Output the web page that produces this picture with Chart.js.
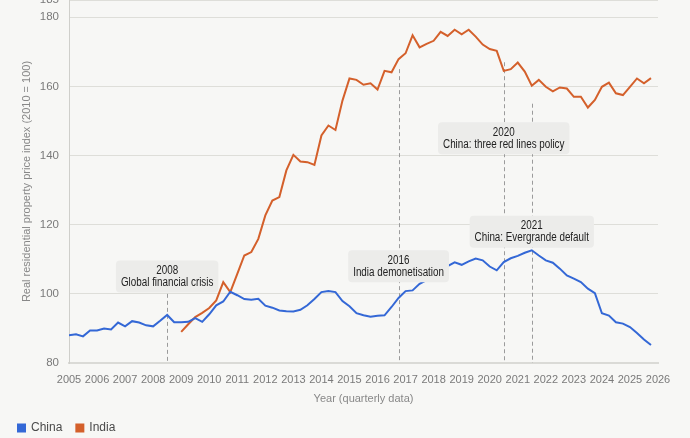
<!DOCTYPE html>
<html>
<head>
<meta charset="utf-8">
<script src="https://cdn.jsdelivr.net/npm/chart.js@4"></script>
<style>
  html, body { margin: 0; padding: 0; background: #f7f7f5; overflow: hidden; }
  #wrap { width: 690px; height: 444px; position: relative; }
</style>
</head>
<body>
<div id="wrap"><canvas id="chart"></canvas></div>
<script>
// Quarterly real residential property price index (2010 = 100)
const chinaStart = 2005;
const chinaValues = [
  88.0, 88.3, 87.7, 89.4, 89.4, 90.0, 89.7, 91.7, 90.6, 92.1,
  91.7, 90.9, 90.6, 92.2, 93.9, 91.8, 91.8, 91.9, 93.0, 91.9,
  94.1, 96.7, 97.8, 100.6, 99.6, 98.5, 98.3, 98.6, 96.6, 96.0,
  95.2, 95.0, 94.9, 95.4, 96.7, 98.5, 100.5, 100.8, 100.5, 97.9,
  96.4, 94.4, 93.8, 93.4, 93.7, 93.8, 96.2, 98.8, 100.8, 101.0,
  102.9, 104.0, 105.0, 106.5, 108.0, 109.1, 108.4, 109.4, 110.2, 109.7,
  107.9, 106.8, 109.2, 110.3, 111.0, 111.9, 112.6, 111.1, 109.7, 109.0,
  107.3, 105.3, 104.4, 103.4, 101.5, 100.2, 94.4, 93.7, 91.8, 91.4,
  90.4, 88.7, 86.8, 85.2
];
const indiaStart = 2009;
const indiaValues = [
  89.0, 91.2, 93.3, 94.5, 95.9, 98.1, 103.4, 100.5, 105.8, 111.1,
  112.1, 115.9, 122.7, 127.0, 128.0, 135.7, 140.2, 138.3, 138.1, 137.3,
  145.8, 148.7, 147.4, 155.9, 162.3, 161.9, 160.5, 160.9, 159.1, 164.5,
  164.1, 167.9, 169.6, 174.8, 171.3, 172.3, 173.2, 175.8, 174.6, 176.4,
  175.1, 176.4, 174.4, 172.1, 170.8, 170.3, 164.5, 165.0, 166.9, 164.3,
  160.2, 161.9, 159.9, 158.6, 159.7, 159.4, 157.0, 157.0, 153.9, 156.1,
  159.9, 161.1, 158.0, 157.5, 159.9, 162.3, 160.9, 162.4
];

// axis ticks
const yearTicks = [2005, 2006, 2007, 2008, 2009, 2010, 2011, 2012, 2013, 2014, 2015,
  2016, 2017, 2018, 2019, 2020, 2021, 2022, 2023, 2024, 2025, 2026];
const valueTicks = [80, 100, 120, 140, 160, 180, 185];

// events marked on the chart
const eventYears = [2008.5, 2016.75, 2020.5, 2021.5];
const eventTitles = ['2008', '2016', '2020', '2021'];
const eventLabels = ['Global financial crisis', 'India demonetisation', 'China: three red lines policy', 'China: Evergrande default'];
const eventLineTops = [100, 165, 167, 155];
const eventLabelValues = [105, 108, 145, 118];

const FONT = "'Liberation Sans', Arial, sans-serif";
Chart.defaults.font.family = FONT;
Chart.defaults.font.size = 11;

const toPoints = (start, values) => values.map((v, i) => ({ x: start + i / 4, y: v }));

// narrow text, the original uses a condensed face
const SQUEEZE = 0.82;
function narrowText(ctx, text, x, y) {
  ctx.save();
  ctx.translate(x, y);
  ctx.scale(SQUEEZE, 1);
  ctx.fillText(text, 0, 0);
  ctx.restore();
}

// dashed event lines under the data, label boxes on top
const eventPlugin = {
  id: 'events',
  beforeDatasetsDraw(chart) {
    const { ctx, chartArea, scales: { x, y } } = chart;
    ctx.save();
    ctx.strokeStyle = '#9b9b9b';
    ctx.lineWidth = 1;
    ctx.setLineDash([4, 3]);
    eventYears.forEach((yr, i) => {
      const px = Math.round(x.getPixelForValue(yr)) + 0.5;
      ctx.beginPath();
      ctx.moveTo(px, y.getPixelForValue(eventLineTops[i]));
      ctx.lineTo(px, chartArea.bottom);
      ctx.stroke();
    });
    ctx.restore();
  },
  afterDatasetsDraw(chart) {
    const { ctx, scales: { x, y } } = chart;
    ctx.save();
    ctx.font = '12px ' + FONT;
    ctx.textAlign = 'center';
    ctx.textBaseline = 'middle';
    eventYears.forEach((yr, i) => {
      const cx = x.getPixelForValue(yr);
      const cy = y.getPixelForValue(eventLabelValues[i]);
      const tw = Math.max(ctx.measureText(eventTitles[i]).width, ctx.measureText(eventLabels[i]).width) * SQUEEZE;
      const w = tw + 10;
      const h = 32;
      ctx.fillStyle = '#ececea';
      ctx.beginPath();
      ctx.roundRect(cx - w / 2, cy - h / 2, w, h, 4);
      ctx.fill();
      ctx.fillStyle = '#222';
      narrowText(ctx, eventTitles[i], cx, cy - 6);
      narrowText(ctx, eventLabels[i], cx, cy + 6.5);
    });
    ctx.restore();
  }
};

const ctx = document.getElementById('chart').getContext('2d');

new Chart(ctx, {
  type: 'line',
  data: {
    datasets: [
      {
        label: 'China',
        data: toPoints(chinaStart, chinaValues),
        borderColor: '#3468d6',
        backgroundColor: '#3468d6',
        borderWidth: 2,
        pointRadius: 0,
        tension: 0
      },
      {
        label: 'India',
        data: toPoints(indiaStart, indiaValues),
        borderColor: '#d4602b',
        backgroundColor: '#d4602b',
        borderWidth: 2,
        pointRadius: 0,
        tension: 0
      }
    ]
  },
  options: {
    responsive: true,
    maintainAspectRatio: false,
    animation: false,
    layout: { padding: { left: 4, right: 32, top: 0, bottom: 0 } },
    plugins: {
      tooltip: { enabled: false },
      legend: {
        position: 'bottom',
        align: 'start',
        labels: {
          boxWidth: 7,
          boxHeight: 7,
          padding: 14,
          color: '#4a4a4a',
          font: { size: 12 }
        }
      }
    },
    scales: {
      x: {
        type: 'linear',
        min: 2005,
        max: 2026,
        afterBuildTicks: s => { s.ticks = yearTicks.map(v => ({ value: v })); },
        afterFit: s => { s.height = 45; s.paddingLeft = 0; s.paddingRight = 0; },
        ticks: {
          padding: 10,
          color: '#7a7a7a',
          maxRotation: 0,
          autoSkip: false,
          callback: v => String(v)
        },
        grid: { display: false, drawTicks: false },
        border: { display: true, color: '#dadad6', width: 2 },
        title: {
          display: true,
          text: 'Year (quarterly data)',
          color: '#888',
          font: { size: 11 },
          padding: { top: 4, bottom: 2 }
        }
      },
      y: {
        min: 80,
        max: 185,
        afterBuildTicks: s => { s.ticks = valueTicks.map(v => ({ value: v })); },
        afterFit: s => { s.width = 65; s.paddingTop = 0; s.paddingBottom = 0; },
        ticks: { padding: 10, color: '#7a7a7a', font: { size: 11.5 } },
        grid: { color: '#deded9', drawTicks: false },
        border: { color: '#cfcfcb' },
        title: {
          display: true,
          text: 'Real residential property price index (2010 = 100)',
          color: '#888',
          font: { size: 11 },
          padding: { top: 16, bottom: 4 }
        }
      }
    }
  },
  plugins: [eventPlugin]
});
</script>
</body>
</html>
